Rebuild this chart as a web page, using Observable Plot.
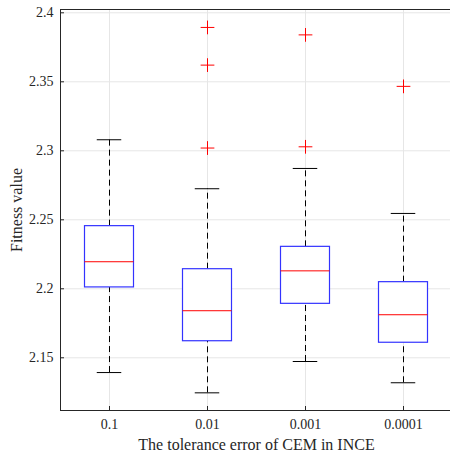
<!DOCTYPE html>
<html>
<head>
<meta charset="utf-8">
<script src="https://cdn.jsdelivr.net/npm/d3@7"></script>
<script src="https://cdn.jsdelivr.net/npm/@observablehq/plot@0.6"></script>
<style>
  html, body { margin: 0; padding: 0; background: #fff; }
  #chart svg { display: block; }
</style>
</head>
<body>
<div id="chart"></div>
<script>
// Categories (tolerance error of CEM in INCE)
const categories = ["0.1", "0.01", "0.001", "0.0001"];
// Box statistics
const whiskerLow  = [2.1393, 2.1246, 2.1473, 2.1319];
const q1          = [2.2010, 2.1620, 2.1891, 2.1609];
const median      = [2.2196, 2.1841, 2.2130, 2.1812];
const q3          = [2.2454, 2.2142, 2.2304, 2.2048];
const whiskerHigh = [2.3080, 2.2725, 2.2872, 2.2546];
// Outliers: [category index, value]
const outlierCat   = [1, 1, 1, 2, 2, 3];
const outlierValue = [2.3894, 2.3621, 2.3020, 2.3840, 2.3029, 2.3467];
// Tick labels
const yTicks = [2.15, 2.2, 2.25, 2.3, 2.35, 2.4];
const yTickLabels = ["2.15", "2.2", "2.25", "2.3", "2.35", "2.4"];
const yDomain = [2.1118, 2.4024];

const boxes = categories.map((c, i) => ({
  c, x: i + 1, lo: whiskerLow[i], q1: q1[i], med: median[i], q3: q3[i], hi: whiskerHigh[i]
}));
const outliers = outlierCat.map((ci, k) => ({x: ci + 1, v: outlierValue[k]}));
const xPos = categories.map((c, i) => i + 1);
const yT = yTicks.map((v, i) => ({v, label: yTickLabels[i]}));
const xT = categories.map((c, i) => ({x: i + 1, label: c}));

const font = "'Liberation Serif', 'Times New Roman', serif";
const boxW = 0.25, capW = 0.125;

const plot = Plot.plot({
  width: 450,
  height: 454,
  marginLeft: 60,
  marginRight: -2,
  marginTop: 9,
  marginBottom: 44,
  style: {fontFamily: font, fontSize: "14px", color: "#262626", background: "#fff"},
  x: {type: "linear", domain: [0.5, 4.5], axis: null},
  y: {domain: yDomain, axis: null},
  marks: [
    // grid
    Plot.ruleY(yTicks, {stroke: "#e6e6e6", strokeWidth: 1}),
    Plot.ruleX(xPos, {stroke: "#e6e6e6", strokeWidth: 1}),
    // whiskers
    Plot.ruleX(boxes, {x: "x", y1: "q3", y2: "hi", stroke: "#000", strokeDasharray: "6,4", strokeWidth: 1}),
    Plot.ruleX(boxes, {x: "x", y1: "lo", y2: "q1", stroke: "#000", strokeDasharray: "6,4", strokeWidth: 1}),
    // caps
    Plot.ruleY(boxes, {y: "hi", x1: d => d.x - capW, x2: d => d.x + capW, stroke: "#000", strokeWidth: 1}),
    Plot.ruleY(boxes, {y: "lo", x1: d => d.x - capW, x2: d => d.x + capW, stroke: "#000", strokeWidth: 1}),
    // boxes
    Plot.rect(boxes, {x1: d => d.x - boxW, x2: d => d.x + boxW, y1: "q1", y2: "q3", fill: "#fff", stroke: "#3333ff", strokeWidth: 1.2}),
    // medians
    Plot.ruleY(boxes, {y: "med", x1: d => d.x - boxW, x2: d => d.x + boxW, stroke: "#ff0000", strokeWidth: 1}),
    // outliers
    Plot.dot(outliers, {x: "x", y: "v", symbol: "plus", r: 4.5, stroke: "#ff0000", strokeWidth: 1}),
    // frame
    Plot.ruleX([0.5], {stroke: "#262626", strokeWidth: 1}),
    Plot.ruleY([yDomain[0], yDomain[1]], {stroke: "#262626", strokeWidth: 1}),
    // inward ticks
    Plot.ruleY(yTicks, {x1: 0.5, x2: 0.5 + 4 / 98, stroke: "#262626"}),
    Plot.ruleX(xPos, {y1: yDomain[0], y2: yDomain[0] + 4 / 1380, stroke: "#262626"}),
    // tick labels
    Plot.text(yT, {x: 0.5, y: "v", text: "label", textAnchor: "end", dx: -7, fontSize: 14, fill: "#262626"}),
    Plot.text(xT, {x: "x", y: yDomain[0], text: "label", lineAnchor: "top", dy: 9, fontSize: 14, fill: "#262626"}),
    // axis titles
    Plot.text(["Fitness value"], {frameAnchor: "left", textAnchor: "middle", dx: -44, rotate: -90, fontSize: 16, fill: "#262626"}),
    Plot.text(["The tolerance error of CEM in INCE"], {frameAnchor: "bottom", textAnchor: "middle", dy: 39, fontSize: 16, fill: "#262626"})
  ]
});
document.getElementById("chart").appendChild(plot);
</script>
</body>
</html>
